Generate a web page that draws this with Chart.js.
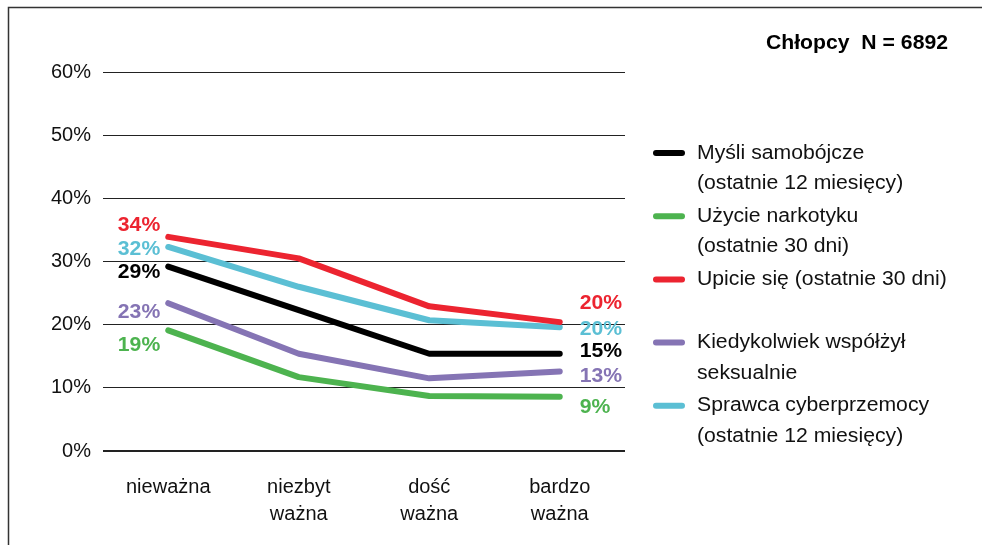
<!DOCTYPE html>
<html>
<head>
<meta charset="utf-8">
<script src="https://cdn.jsdelivr.net/npm/chart.js@4.4.1/dist/chart.umd.min.js"></script>
<style>
  html, body { margin: 0; padding: 0; background: #fff; }
  #wrap { width: 982px; height: 545px; position: relative; }
</style>
</head>
<body>
<div id="wrap"><canvas id="chart" width="982" height="545"></canvas></div>
<script>
// ============================================
// DANE
// ============================================
const categories = [['nieważna'], ['niezbyt', 'ważna'], ['dość', 'ważna'], ['bardzo', 'ważna']];
const yTicks     = [0, 10, 20, 30, 40, 50, 60];
const title      = 'Chłopcy  N = 6892';

const mysli    = [29.2, 22.3, 15.4, 15.4];
const narkotyk = [19.1, 11.7, 8.7, 8.6];
const upicie   = [33.9, 30.5, 22.9, 20.4];
const seks     = [23.4, 15.4, 11.5, 12.6];
const cyber    = [32.3, 26.0, 20.7, 19.6];

const legendTexts = [
  ['Myśli samobójcze', '(ostatnie 12 miesięcy)'],
  ['Użycie narkotyku', '(ostatnie 30 dni)'],
  ['Upicie się (ostatnie 30 dni)', ''],
  ['Kiedykolwiek współżył', 'seksualnie'],
  ['Sprawca cyberprzemocy', '(ostatnie 12 miesięcy)'],
];

const FONT = "'Liberation Sans', Arial, sans-serif";
const STRETCH = 1.06; // tekst w oryginale jest lekko rozciągnięty w poziomie
Chart.defaults.font.family = FONT;

// tekst rozciągnięty poziomo względem punktu zakotwiczenia
function wideText(ctx, text, x, y) {
  ctx.save();
  ctx.translate(x, y);
  ctx.scale(STRETCH, 1);
  ctx.fillText(text, 0, 0);
  ctx.restore();
}

// ============================================
// PLUGINS
// ============================================
const framePlugin = {
  id: 'frame',
  beforeDraw(chart) {
    const ctx = chart.ctx;
    ctx.save();
    ctx.strokeStyle = '#333';
    ctx.lineWidth = 1.5;
    ctx.beginPath();
    ctx.moveTo(8.5, 545);
    ctx.lineTo(8.5, 7.5);
    ctx.lineTo(982, 7.5);
    ctx.stroke();
    ctx.restore();
  },
  afterDraw(chart) {
    const ctx = chart.ctx;
    ctx.save();
    ctx.fillStyle = '#000';
    ctx.font = `bold 20px ${FONT}`;
    ctx.textAlign = 'right';
    ctx.textBaseline = 'middle';
    wideText(ctx, title, 948, 43);
    ctx.restore();
  }
};

const legendPlugin = {
  id: 'sideLegend',
  afterDraw(chart) {
    const ctx = chart.ctx;
    ctx.save();
    chart.data.datasets.forEach((ds, i) => {
      const y0 = 153 + i * 63.2;
      ctx.strokeStyle = ds.borderColor;
      ctx.lineWidth = 6;
      ctx.lineCap = 'round';
      ctx.beginPath();
      ctx.moveTo(656, y0);
      ctx.lineTo(682, y0);
      ctx.stroke();
      ctx.fillStyle = '#111';
      ctx.font = `20px ${FONT}`;
      ctx.textAlign = 'left';
      ctx.textBaseline = 'middle';
      legendTexts[i].forEach((t, k) => wideText(ctx, t, 697, y0 + k * 30.5));
    });
    ctx.restore();
  }
};

const valueLabels = {
  id: 'valueLabels',
  afterDatasetsDraw(chart) {
    const ctx = chart.ctx;
    ctx.save();
    ctx.font = `bold 20px ${FONT}`;
    ctx.textBaseline = 'middle';
    chart.data.datasets.forEach((ds, i) => {
      const pts = chart.getDatasetMeta(i).data;
      const first = pts[0], last = pts[pts.length - 1];
      ctx.fillStyle = ds.borderColor;
      ctx.textAlign = 'right';
      wideText(ctx, Math.round(ds.data[0]) + '%', first.x - 8, first.y + ds.offStart);
      ctx.textAlign = 'left';
      wideText(ctx, Math.round(ds.data[ds.data.length - 1]) + '%', last.x + 20, last.y + ds.offEnd);
    });
    ctx.restore();
  }
};

// ============================================
// WYKRES
// ============================================
const lineStyle = {
  borderWidth: 6,
  tension: 0,
  pointRadius: 0,
  pointHoverRadius: 0,
  borderCapStyle: 'round',
  borderJoinStyle: 'round',
  fill: false,
};

new Chart(document.getElementById('chart'), {
  type: 'line',
  data: {
    labels: categories,
    datasets: [
      { label: legendTexts[0].join(' '), data: mysli,    borderColor: '#000000', offStart: 6,   offEnd: -2, ...lineStyle },
      { label: legendTexts[1].join(' '), data: narkotyk, borderColor: '#4db34f', offStart: 15,  offEnd: 11, ...lineStyle },
      { label: legendTexts[2].join(' '), data: upicie,   borderColor: '#ec2430', offStart: -11, offEnd: -19, ...lineStyle },
      { label: legendTexts[3].join(' '), data: seks,     borderColor: '#8574b4', offStart: 9,   offEnd: 5, ...lineStyle },
      { label: legendTexts[4].join(' '), data: cyber,    borderColor: '#5bbfd4', offStart: 3,   offEnd: 2, ...lineStyle },
    ],
  },
  options: {
    responsive: false,
    animation: false,
    layout: { padding: { top: 72, right: 357, left: 0, bottom: 0 } },
    plugins: {
      legend: { display: false },
      tooltip: { enabled: false },
    },
    scales: {
      x: {
        offset: true,
        grid: { display: false },
        border: { display: false },
        ticks: {
          color: '#111',
          font: { size: 20, lineHeight: 1.35 },
          padding: 15,
          maxRotation: 0,
          autoSkip: false,
        },
        afterFit: (s) => { s.height = 94; },
      },
      y: {
        min: 0,
        max: 60,
        afterBuildTicks: (s) => { s.ticks = yTicks.map(v => ({ value: v })); },
        grid: {
          color: '#222',
          lineWidth: (c) => (c.tick && c.tick.value === 0 ? 2 : 1),
          drawTicks: false,
        },
        border: { display: false },
        ticks: {
          color: '#111',
          font: { size: 20 },
          padding: 12,
          callback: (v) => v + '%',
        },
        afterFit: (s) => { s.width = 103; },
      },
    },
  },
  plugins: [framePlugin, legendPlugin, valueLabels],
});
</script>
</body>
</html>
